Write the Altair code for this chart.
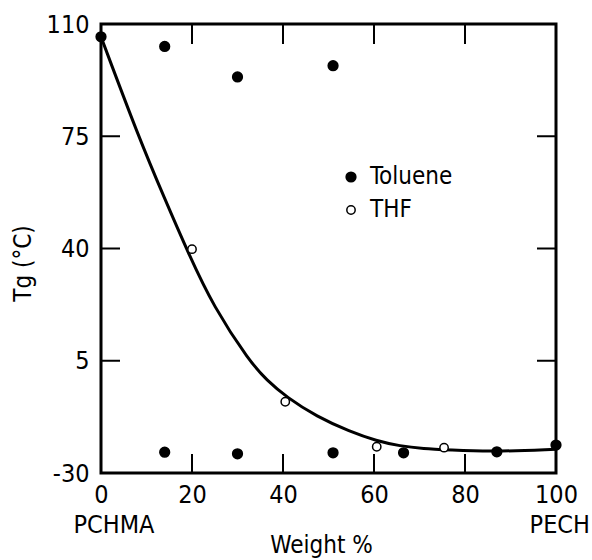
import altair as alt
import pandas as pd

# ---- data ----
tol_x = [0, 14, 30, 51, 14, 30, 51, 66.5, 87, 100]
tol_y = [106, 103, 93.5, 97, -23.5, -24, -23.7, -23.7, -23.4, -21.3]

thf_x = [20, 40.5, 60.6, 75.4]
thf_y = [39.8, -7.8, -21.8, -22.1]

curve_x = [0, 8.2, 14, 19.2, 24.7, 32.7, 36.4, 40.8, 47.4, 54.7, 60.6, 65.7, 70.8, 76.7, 85.5, 100]
curve_y = [106, 75, 55.5, 38.5, 21.9, 4.7, -1.0, -6.4, -12.4, -17.1, -20.0, -21.6, -22.4, -22.8, -23.4, -22.6]

x_label_values = [0, 20, 40, 60, 80, 100]
y_label_values = [-30, 5, 40, 75, 110]
x_inner_ticks = [20, 40, 60, 80]
y_inner_ticks = [5, 40, 75]

end_names = ["PCHMA", "PECH"]
end_x = [0, 100]

series_names = ["Toluene", "THF"]

FONT = "DejaVu Sans Condensed, Liberation Sans Narrow, DejaVu Sans, sans-serif"
W, H = 455, 449

pts = pd.DataFrame(
    {"x": tol_x + thf_x,
     "y": tol_y + thf_y,
     "series": ["Toluene"] * len(tol_x) + ["THF"] * len(thf_x)}
)
curve = pd.DataFrame({"x": curve_x, "y": curve_y})
xt = pd.DataFrame({"v": x_inner_ticks})
yt = pd.DataFrame({"v": y_inner_ticks})
ends = pd.DataFrame({"name": end_names, "x": end_x})
frame = pd.DataFrame({"one": [1]})

xscale = alt.Scale(domain=[0, 100], nice=False, zero=False)
yscale = alt.Scale(domain=[-30, 110], nice=False, zero=False)

xaxis = alt.Axis(
    values=x_label_values, ticks=False, domain=False, grid=False, labelFlush=False,
    labelFontSize=25, labelFont=FONT, labelColor="black", labelPadding=9,
    title="Weight %", titleFont=FONT, titleFontSize=24, titleFontWeight="normal",
    titleColor="black", titleX=220, titleY=79, titleAlign="center",
    titleBaseline="alphabetic",
)
yaxis = alt.Axis(
    values=y_label_values, ticks=False, domain=False, grid=False,
    labelFontSize=25, labelFont=FONT, labelColor="black", labelPadding=12,
    labelExpr="datum.value + ''",
    title="Tg (°C)", titleFont=FONT, titleFontSize=24, titleFontWeight="normal",
    titleColor="black", titleX=-78, titleY=239, titleAngle=270,
    titleAlign="center", titleBaseline="middle",
)

box = alt.Chart(frame).mark_rect(
    fill="white", fillOpacity=0, stroke="black", strokeWidth=3
).encode(
    x=alt.value(0), x2=alt.value(W), y=alt.value(0), y2=alt.value(H)
)

line = alt.Chart(curve).mark_line(
    color="black", strokeWidth=3, interpolate="basis"
).encode(
    x=alt.X("x:Q", scale=xscale, axis=xaxis),
    y=alt.Y("y:Q", scale=yscale, axis=yaxis),
)

points = alt.Chart(pts).mark_point(
    filled=True, stroke="black", strokeWidth=1.5, opacity=1
).encode(
    x=alt.X("x:Q", scale=xscale),
    y=alt.Y("y:Q", scale=yscale),
    fill=alt.Fill(
        "series:N",
        scale=alt.Scale(domain=series_names, range=["black", "white"]),
        legend=alt.Legend(
            title=None, orient="none", legendX=238, legendY=141,
            labelFont=FONT, labelFontSize=24, labelColor="black",
            symbolType="circle", symbolStrokeColor="black",
            symbolStrokeWidth=1.5, labelOffset=7, rowPadding=9,
        ),
    ),
    size=alt.Size(
        "series:N",
        scale=alt.Scale(domain=series_names, range=[95, 70]),
        legend=alt.Legend(
            title=None, orient="none", legendX=238, legendY=141,
        ),
    ),
)

ticks_bottom = alt.Chart(xt).mark_rule(color="black", strokeWidth=2).encode(
    x=alt.X("v:Q", scale=xscale), y=alt.value(H - 19), y2=alt.value(H)
)
ticks_top = alt.Chart(xt).mark_rule(color="black", strokeWidth=2).encode(
    x=alt.X("v:Q", scale=xscale), y=alt.value(0), y2=alt.value(20)
)
ticks_left = alt.Chart(yt).mark_rule(color="black", strokeWidth=2).encode(
    y=alt.Y("v:Q", scale=yscale), x=alt.value(0), x2=alt.value(19)
)
ticks_right = alt.Chart(yt).mark_rule(color="black", strokeWidth=2).encode(
    y=alt.Y("v:Q", scale=yscale), x=alt.value(W - 19), x2=alt.value(W)
)

left_name = alt.Chart(ends).transform_filter(alt.datum.x == 0).mark_text(
    font=FONT, fontSize=25, color="black", baseline="alphabetic", align="center", dx=13
).encode(x=alt.X("x:Q", scale=xscale), y=alt.value(509), text="name:N")

right_name = alt.Chart(ends).transform_filter(alt.datum.x == 100).mark_text(
    font=FONT, fontSize=25, color="black", baseline="alphabetic", align="right", dx=34
).encode(x=alt.X("x:Q", scale=xscale), y=alt.value(509), text="name:N")

chart = alt.layer(
    box, ticks_bottom, ticks_top, ticks_left, ticks_right, line, points,
    left_name, right_name
).properties(
    width=W, height=H,
    autosize=alt.AutoSizeParams(type="none"),
    padding={"left": 101, "top": 24, "right": 36, "bottom": 87},
).configure_view(
    stroke=None
).configure(background="white")

chart.save("out.html", embed_options={"renderer": "svg", "actions": False})
